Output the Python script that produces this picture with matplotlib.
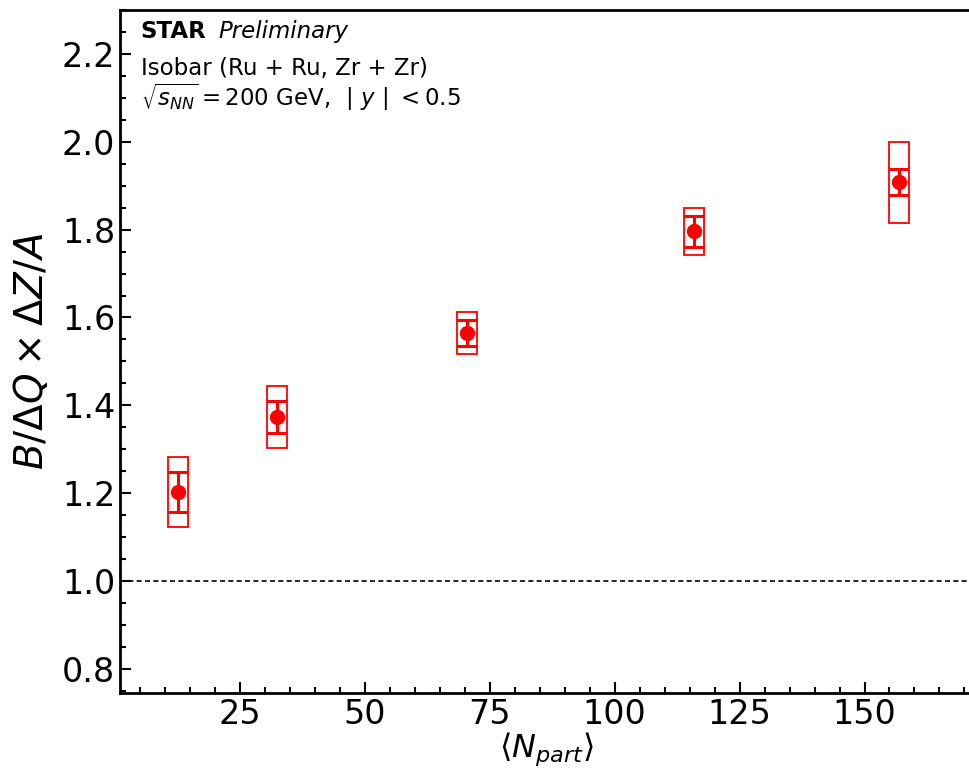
import numpy as np
import matplotlib
matplotlib.use("Agg")
import matplotlib.pyplot as plt
from matplotlib.patches import Rectangle
from matplotlib.ticker import MultipleLocator

# <Npart> and B/dQ x dZ/A for isobar collisions
npart = [12.6, 32.4, 70.4, 115.8, 157.0]
ratio = [1.203, 1.373, 1.565, 1.796, 1.908]
stat_err = [0.046, 0.037, 0.030, 0.036, 0.030]
sys_err = [0.080, 0.071, 0.048, 0.054, 0.092]
box_halfwidth = 2.0

fig = plt.figure(figsize=(9.69, 7.73), dpi=100)
ax = fig.add_axes([0.124, 0.1035, 0.879, 0.8835])

ax.axhline(1.0, color="black", ls="--", lw=1.2, dashes=(3, 2))

for x, y, s in zip(npart, ratio, sys_err):
    ax.add_patch(Rectangle((x - box_halfwidth, y - s), 2 * box_halfwidth, 2 * s,
                           fill=False, edgecolor="red", lw=1.3))

ax.errorbar(npart, ratio, yerr=stat_err, fmt="o", color="red", ms=10,
            elinewidth=2.2, capsize=7, capthick=2.2)

ax.set_xlim(1, 171.5)
ax.set_ylim(0.745, 2.3)
ax.xaxis.set_major_locator(MultipleLocator(25))
ax.xaxis.set_minor_locator(MultipleLocator(5))
ax.yaxis.set_major_locator(MultipleLocator(0.2))
ax.yaxis.set_minor_locator(MultipleLocator(0.05))
ax.tick_params(which="both", direction="in", top=False, right=False,
               labelsize=24, width=1.5)
ax.tick_params(which="major", length=8)
ax.tick_params(which="minor", length=4)
for sp in ax.spines.values():
    sp.set_linewidth(2)
ax.spines["right"].set_visible(False)

ax.set_xlabel(r"$\langle N_{part} \rangle$", fontsize=23, labelpad=0)
ax.set_ylabel(r"$B/\Delta Q \times \Delta Z/A$", fontsize=28, labelpad=8)

ax.text(0.024, 0.968, "STAR", transform=ax.transAxes, fontsize=16.5,
        fontweight="bold", va="center")
ax.text(0.115, 0.968, "Preliminary", transform=ax.transAxes, fontsize=16.5,
        style="italic", va="center")
ax.text(0.024, 0.915, "Isobar (Ru + Ru, Zr + Zr)", transform=ax.transAxes,
        fontsize=16.5, va="center")
ax.text(0.024, 0.872, r"$\sqrt{s_{NN}} = $200 GeV,  $|\ y\ |\ < $0.5",
        transform=ax.transAxes, fontsize=16.5, va="center")

fig.savefig("out.png", dpi=100)
